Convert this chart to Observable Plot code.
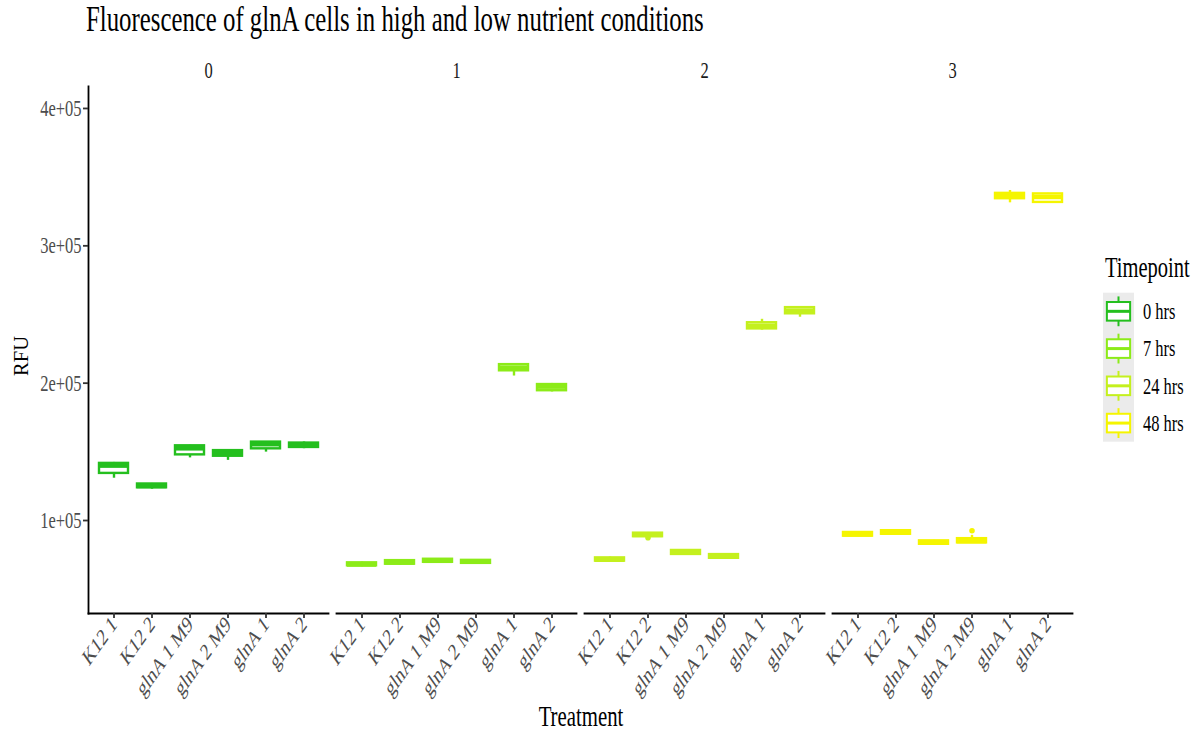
<!DOCTYPE html>
<html>
<head>
<meta charset="utf-8">
<script src="https://cdn.jsdelivr.net/npm/d3@7"></script>
<script src="https://cdn.jsdelivr.net/npm/@observablehq/plot@0.6"></script>
<style>
  body { margin: 0; background: #fff; }
  #wrap { position: relative; width: 1197px; height: 730px; font-family: "Liberation Serif", "Times New Roman", serif; color: #000; }
  #title { position: absolute; left: 86px; top: 10px; font-size: 24.8px; line-height: 25px; white-space: nowrap;
           transform: scaleY(1.42); transform-origin: 0 21px; }
  #chart { position: absolute; left: 0; top: 50px; }
  #ylab { position: absolute; left: 21px; top: 356px; transform: translate(-50%, -50%) rotate(-90deg); font-size: 20.5px; white-space: nowrap; }
  #xlab { position: absolute; left: 581px; top: 716px; transform: translate(-50%, -50%) scaleY(1.42); font-size: 20.8px; white-space: nowrap; }
  #legend { position: absolute; left: 1095px; top: 250px; }
</style>
</head>
<body>
<div id="wrap">
  <div id="title">Fluorescence of glnA cells in high and low nutrient conditions</div>
  <div id="chart"></div>
  <div id="ylab">RFU</div>
  <div id="xlab">Treatment</div>
  <div id="legend"></div>
</div>
<script>
// Treatments on the x axis, one panel per timepoint
const treatments = ["K12 1", "K12 2", "glnA 1 M9", "glnA 2 M9", "glnA 1", "glnA 2"];
const facetLabels = ["0", "1", "2", "3"];
const timepointLabels = ["0 hrs", "7 hrs", "24 hrs", "48 hrs"];
const timepointColors = ["#24BF1E", "#8CEB18", "#C4F01E", "#F5F500"];

// Boxplot statistics (RFU), one row per timepoint, in treatment order
const lower = [
  [130800, 122800, 145600, 143800, 149800, 152300],
  [66300, 67600, 69000, 68300, 205200, 193600],
  [70000, 88200, 75000, 72200, 238600, 248000],
  [88300, 89600, 82300, 83300, 331300, 331000]
];
const q1 = [
  [134300, 123800, 147800, 146800, 152200, 153200],
  [67000, 68200, 69600, 68800, 209000, 194500],
  [70400, 88200, 75300, 72500, 239500, 250500],
  [88600, 90000, 82700, 83700, 334300, 331600]
];
const median = [
  [140000, 125200, 152600, 149000, 155600, 155000],
  [68000, 69500, 70700, 70000, 211300, 197500],
  [71500, 89600, 76800, 73800, 241800, 252800],
  [90000, 91300, 84000, 85000, 336400, 335600]
];
const q3 = [
  [141600, 126600, 154400, 150900, 157100, 156400],
  [69200, 70800, 71800, 71000, 213500, 199000],
  [72800, 90800, 78200, 75200, 244000, 255000],
  [91300, 92600, 85200, 86800, 338200, 337800]
];
const upper = [
  [142300, 127000, 154800, 151300, 157500, 157200],
  [69700, 71200, 72200, 71500, 213900, 199800],
  [73400, 91300, 78500, 75500, 246500, 255600],
  [91600, 93000, 85600, 89200, 340300, 338200]
];

// Points beyond the whiskers
const outlierFacet = ["2", "3"];
const outlierTreatment = ["K12 2", "glnA 2 M9"];
const outlierValue = [87400, 92600];

// y axis ticks
const yTicks = [100000, 200000, 300000, 400000];
const yTickLabels = ["1e+05", "2e+05", "3e+05", "4e+05"];

const rows = [];
facetLabels.forEach((f, t) => {
  treatments.forEach((tr, i) => {
    rows.push({
      time: f, timepoint: timepointLabels[t], treatment: tr,
      lo: lower[t][i], q1: q1[t][i], median: median[t][i], q3: q3[t][i], hi: upper[t][i]
    });
  });
});
const outliers = outlierFacet.map((f, i) => ({
  time: f,
  timepoint: timepointLabels[facetLabels.indexOf(f)],
  treatment: outlierTreatment[i],
  rfu: outlierValue[i]
}));

const serif = "Liberation Serif, Times New Roman, serif";
const lineW = 2.4;
const textStretch = 1.42; // tall glyph proportions

const chart = Plot.plot({
  width: 1197,
  height: 680,
  marginLeft: 86,
  marginRight: 123,
  marginTop: 36,
  marginBottom: 117,
  style: { fontFamily: serif, background: "white", overflow: "visible" },
  fx: { domain: facetLabels, paddingInner: 0.032, paddingOuter: 0, label: null },
  x: { domain: treatments, paddingInner: 0.25, paddingOuter: 0.225, label: null },
  y: { domain: [32300, 416000], label: null },
  color: { domain: timepointLabels, range: timepointColors },
  marks: [
    // whiskers
    Plot.ruleX(rows, { fx: "time", x: "treatment", y1: "lo", y2: "q1", stroke: "timepoint", strokeWidth: lineW }),
    Plot.ruleX(rows, { fx: "time", x: "treatment", y1: "q3", y2: "hi", stroke: "timepoint", strokeWidth: lineW }),
    // boxes
    Plot.barY(rows, { fx: "time", x: "treatment", y1: "q1", y2: "q3", fill: "white", stroke: "timepoint", strokeWidth: lineW }),
    // medians
    Plot.tickY(rows, { fx: "time", x: "treatment", y: "median", stroke: "timepoint", strokeWidth: 4.6 }),
    // outliers
    Plot.dot(outliers, { fx: "time", x: "treatment", y: "rfu", fill: "timepoint", r: 2.8 }),
    // axis lines
    Plot.frame({ anchor: "bottom", stroke: "black", strokeWidth: 1.8 }),
    Plot.frame({ anchor: "left", facetAnchor: "left", stroke: "black", strokeWidth: 1.8 }),
    Plot.axisY({
      ticks: yTicks,
      tickFormat: d => yTickLabels[yTicks.indexOf(d)],
      tickSize: 5, tickPadding: 2, fontSize: 16.5,
      fill: "#4D4D4D", stroke: "#333", strokeWidth: 1.8, label: null
    }),
    Plot.axisX({
      tickRotate: -45, tickSize: 5, tickPadding: 2, fontSize: 16.5,
      fill: "#4D4D4D", stroke: "#333", strokeWidth: 1.8, label: null
    }),
    Plot.axisFx({ anchor: "top", tickSize: 0, tickPadding: 9, fontSize: 16.5, fill: "#1A1A1A", label: null })
  ]
});

// Give every label the same tall glyph shape, scaling about its own anchor
chart.querySelectorAll("text").forEach(t => {
  const tr = t.getAttribute("transform") || "";
  const sc = `scale(1,${textStretch})`;
  if (tr.includes("rotate(")) {
    t.setAttribute("transform", tr.replace("rotate(", `${sc} rotate(`));
  } else if (tr) {
    t.setAttribute("transform", `${tr} ${sc}`);
  } else {
    const x = +t.getAttribute("x") || 0, y = +t.getAttribute("y") || 0;
    t.setAttribute("transform", `translate(${x},${y}) ${sc} translate(${-x},${-y})`);
  }
});
document.getElementById("chart").appendChild(chart);

// Legend: boxplot keys coloured through the chart's colour scale
const color = chart.scale("color");
const keyW = 31, keyH = 37.25, keyX = 8, keyY = 42.7;
const leg = d3.select("#legend").append("svg")
  .attr("width", 102).attr("height", 200)
  .style("font-family", serif);
leg.append("text").attr("transform", `translate(10,27) scale(1,${textStretch})`)
  .attr("font-size", 20.5).attr("fill", "#000").text("Timepoint");
leg.append("rect").attr("x", keyX).attr("y", keyY).attr("width", keyW)
  .attr("height", keyH * timepointLabels.length).attr("fill", "#EBEBEB");
timepointLabels.forEach((lab, i) => {
  const c = color.apply(lab);
  const y0 = keyY + i * keyH;
  const g = leg.append("g").attr("stroke", c).attr("fill", "none").attr("stroke-width", 2);
  const cx = keyX + keyW / 2;
  g.append("line").attr("x1", cx).attr("x2", cx).attr("y1", y0 + keyH * 0.1).attr("y2", y0 + keyH * 0.25);
  g.append("line").attr("x1", cx).attr("x2", cx).attr("y1", y0 + keyH * 0.75).attr("y2", y0 + keyH * 0.9);
  g.append("rect").attr("x", keyX + keyW * 0.125).attr("y", y0 + keyH * 0.25)
    .attr("width", keyW * 0.75).attr("height", keyH * 0.5).attr("fill", "white");
  g.append("line").attr("x1", keyX + keyW * 0.125).attr("x2", keyX + keyW * 0.875)
    .attr("y1", y0 + keyH / 2).attr("y2", y0 + keyH / 2).attr("stroke-width", 3);
  leg.append("text").attr("transform", `translate(48,${y0 + keyH / 2}) scale(1,${textStretch})`)
    .attr("dy", "0.33em").attr("font-size", 16.5).attr("fill", "#000").text(lab);
});
</script>
</body>
</html>
